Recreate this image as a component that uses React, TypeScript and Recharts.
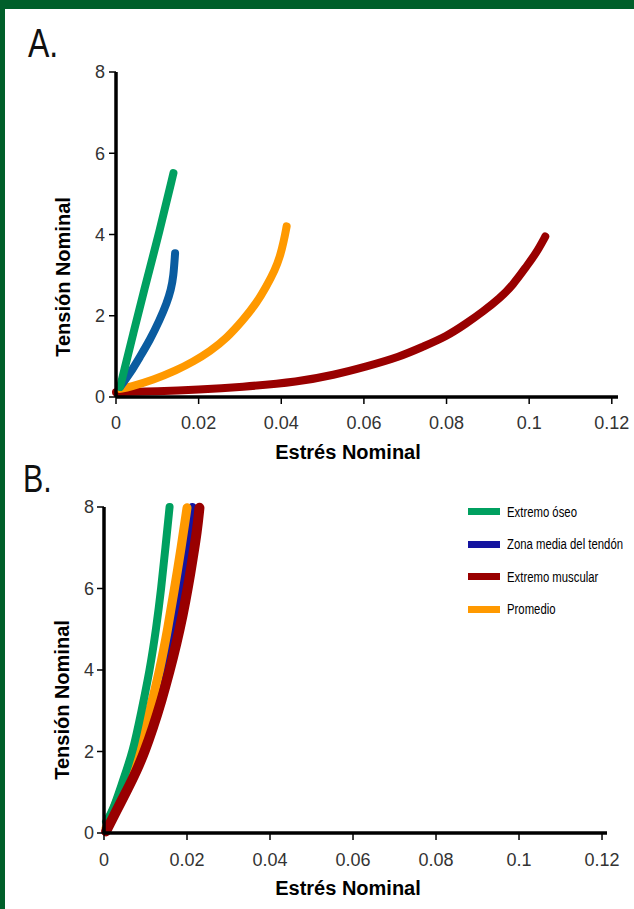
import React from 'react';
import { LineChart, Line, XAxis, YAxis, Legend } from 'recharts';

// Panel A: stress (x) vs tension (y)
const greenAX = [0.001, 0.0018, 0.0042, 0.0066, 0.0106, 0.0139];
const greenAY = [0.25, 0.58, 1.57, 2.55, 4.1, 5.51];
const blueAX = [0.001, 0.0034, 0.0058, 0.0082, 0.0106, 0.0123, 0.0133, 0.0139, 0.0143];
const blueAY = [0.25, 0.58, 0.99, 1.4, 1.9, 2.31, 2.64, 2.96, 3.54];
const orangeAX = [0.001, 0.0034, 0.009, 0.0147, 0.0187, 0.0227, 0.0268, 0.0308, 0.034, 0.0364, 0.0385, 0.0397, 0.0406, 0.0413];
const orangeAY = [0.2, 0.25, 0.42, 0.66, 0.87, 1.12, 1.45, 1.9, 2.31, 2.72, 3.13, 3.46, 3.83, 4.2];
const redAX = [0, 0.01, 0.02, 0.03, 0.0445, 0.0526, 0.0606, 0.0687, 0.0743, 0.08, 0.0848, 0.0888, 0.0929, 0.0961, 0.0993, 0.1017, 0.1039];
const redAY = [0.12, 0.14, 0.18, 0.24, 0.38, 0.54, 0.75, 0.99, 1.24, 1.49, 1.81, 2.1, 2.43, 2.76, 3.21, 3.54, 3.95];

// Panel B
const greenBX = [0.0005, 0.0021, 0.0045, 0.007, 0.009, 0.011, 0.0126, 0.0138, 0.0148, 0.0158];
const greenBY = [0.28, 0.53, 1.27, 2, 2.98, 3.97, 5.03, 6.01, 7, 8];
const blueBX = [0.0005, 0.0045, 0.0086, 0.0118, 0.015, 0.017, 0.0186, 0.02, 0.0213];
const blueBY = [0.08, 0.95, 1.92, 2.98, 3.97, 5.03, 6.01, 7, 8];
const orangeBX = [0.0005, 0.0037, 0.0082, 0.011, 0.0134, 0.0154, 0.017, 0.0186, 0.02];
const orangeBY = [0.12, 0.94, 2, 2.98, 3.97, 5.03, 6.01, 7, 7.98];
const redBX = [0.0005, 0.0029, 0.0054, 0.0078, 0.0098, 0.0118, 0.0138, 0.0158, 0.0174, 0.019, 0.0202, 0.0214, 0.0224, 0.023];
const redBY = [0.04, 0.53, 1.02, 1.51, 2, 2.58, 3.23, 3.97, 4.62, 5.36, 6.01, 6.75, 7.4, 7.98];

const xTicks = [0, 0.02, 0.04, 0.06, 0.08, 0.1, 0.12];
const yTicks = [0, 2, 4, 6, 8];

const legendNames = ['Extremo óseo', 'Zona media del tendón', 'Extremo muscular', 'Promedio'];
const legendColors = ['#00a060', '#1414a0', '#990000', '#ff9900'];

const zip = (xs: number[], ys: number[]) => xs.map((x, i) => ({ x, y: ys[i] }));

const FONT = '"Liberation Sans", Arial, sans-serif';

const tickStyle = { fontSize: 18, fill: '#333', fontFamily: FONT };

function axes(xMax: number, yTickMargin: number, xTickMargin: number) {
  return [
    <XAxis
      key="x"
      type="number"
      dataKey="x"
      domain={[0, xMax]}
      ticks={xTicks}
      height={30}
      tick={tickStyle}
      tickSize={7}
      tickMargin={xTickMargin}
      axisLine={{ stroke: '#000', strokeWidth: 3.5 }}
      tickLine={{ stroke: '#000', strokeWidth: 1.5 }}
    />,
    <YAxis
      key="y"
      type="number"
      dataKey="y"
      domain={[0, 8]}
      ticks={yTicks}
      width={50}
      tick={tickStyle}
      tickSize={7}
      tickMargin={yTickMargin}
      axisLine={{ stroke: '#000', strokeWidth: 3.5 }}
      tickLine={{ stroke: '#000', strokeWidth: 1.5 }}
    />,
  ];
}

function curve(key: string, data: { x: number; y: number }[], color: string, w: number) {
  return (
    <Line
      key={key}
      data={data}
      dataKey="y"
      type="basis"
      stroke={color}
      strokeWidth={w}
      strokeLinecap="round"
      strokeLinejoin="round"
      dot={false}
      activeDot={false}
      isAnimationActive={false}
    />
  );
}

function LegendBox() {
  return (
    <div style={{ fontFamily: FONT, fontSize: 14, color: '#000', whiteSpace: 'nowrap' }}>
      {legendNames.map((name, i) => (
        <div key={name} style={{ height: 32.5, display: 'flex', alignItems: 'center' }}>
          <span style={{ width: 32, height: 7, flexShrink: 0, background: legendColors[i], marginRight: 7, display: 'inline-block' }} />
          <span style={{ display: 'inline-block', transform: 'scaleX(0.81)', transformOrigin: 'left center' }}>{name}</span>
        </div>
      ))}
    </div>
  );
}

export default function App() {
  return (
    <div style={{ position: 'absolute', left: 0, top: 0, width: 634, height: 909, background: '#fff', overflow: 'hidden' }}>
      <div style={{ position: 'absolute', left: 0, top: 0, width: 634, height: 9, background: '#005f2a' }} />
      <div style={{ position: 'absolute', left: 0, top: 0, width: 5, height: 909, background: '#005f2a' }} />

      <div style={{ position: 'absolute', left: 0, top: 0 }}>
        <LineChart width={634} height={470} margin={{ top: 72, right: 16, left: 66, bottom: 43 }}>
          {axes(0.1215, 4, 12)}
          {curve('redA', zip(redAX, redAY), '#990000', 8)}
          {curve('orangeA', zip(orangeAX, orangeAY), '#ff9900', 8)}
          {curve('blueA', zip(blueAX, blueAY), '#0a5ca0', 8)}
          {curve('greenA', zip(greenAX, greenAY), '#00a060', 8)}
        </LineChart>
      </div>

      <div style={{ position: 'absolute', left: 0, top: 460 }}>
        <LineChart width={634} height={449} margin={{ top: 47, right: 27, left: 54, bottom: 46 }}>
          {axes(0.1212, 3, 13)}
          {curve('blueB', zip(blueBX, blueBY), '#1414a0', 8)}
          {curve('orangeB', zip(orangeBX, orangeBY), '#ff9900', 9)}
          {curve('greenB', zip(greenBX, greenBY), '#00a060', 8)}
          {curve('redB', zip(redBX, redBY), '#990000', 10)}
          <Legend
            layout="vertical"
            align="center"
            verticalAlign="middle"
            content={() => <LegendBox />}
            wrapperStyle={{ left: 468, top: 35.5, width: 200, height: 130 }}
          />
        </LineChart>
      </div>

      <svg width={634} height={909} style={{ position: 'absolute', left: 0, top: 0, pointerEvents: 'none' }}>
        <text transform="translate(28,57) scale(0.8,1)" fontFamily={FONT} fontSize={40} fill="#111">A.</text>
        <text transform="translate(23,492) scale(0.8,1)" fontFamily={FONT} fontSize={38} fill="#111">B.</text>
        <text x={348} y={459} textAnchor="middle" fontFamily={FONT} fontWeight="bold" fontSize={20} fill="#000">Estrés Nominal</text>
        <text x={348} y={895} textAnchor="middle" fontFamily={FONT} fontWeight="bold" fontSize={20} fill="#000">Estrés Nominal</text>
        <text transform="translate(70,277) rotate(-90)" textAnchor="middle" fontFamily={FONT} fontWeight="bold" fontSize={20} fill="#000">Tensión Nominal</text>
        <text transform="translate(69,700) rotate(-90)" textAnchor="middle" fontFamily={FONT} fontWeight="bold" fontSize={20} fill="#000">Tensión Nominal</text>
      </svg>
    </div>
  );
}
